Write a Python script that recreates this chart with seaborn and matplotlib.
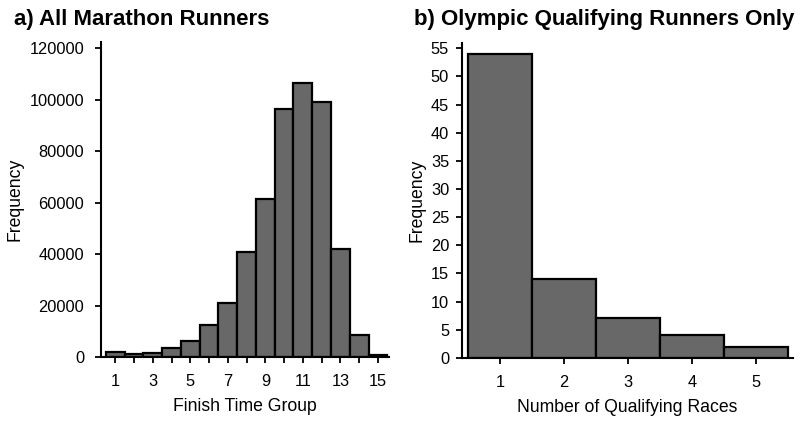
import matplotlib
matplotlib.use("Agg")
import matplotlib.pyplot as plt
import seaborn as sns
import numpy as np

# Finish time groups and their counts (all marathon runners)
finish_groups = list(range(1, 16))
finish_counts = [1800, 1200, 1700, 3400, 6200, 12600, 21000, 41000,
                 61500, 96500, 106500, 99000, 42000, 8400, 800]

# Number of qualifying races per Olympic qualifier
race_counts = [1, 2, 3, 4, 5]
race_freq = [54, 14, 7, 4, 2]

sns.set_style("ticks")
plt.rcParams["font.family"] = ["Liberation Sans", "DejaVu Sans"]
plt.rcParams["text.color"] = "black"
plt.rcParams["axes.labelcolor"] = "black"
plt.rcParams["axes.edgecolor"] = "black"
plt.rcParams["axes.linewidth"] = 1.5
plt.rcParams["xtick.major.width"] = 1.3
plt.rcParams["ytick.major.width"] = 1.3
plt.rcParams["xtick.major.size"] = 4
plt.rcParams["ytick.major.size"] = 4

bar_color = "#686868"

fig = plt.figure(figsize=(8.0, 4.23), dpi=100)
ax1 = fig.add_axes([0.126, 0.156, 0.360, 0.745])
ax2 = fig.add_axes([0.577, 0.154, 0.414, 0.745])

sns.histplot(x=finish_groups, weights=finish_counts, discrete=True, ax=ax1,
             color=bar_color, edgecolor="black", linewidth=1.6, alpha=1)
sns.histplot(x=race_counts, weights=race_freq, discrete=True, ax=ax2,
             color=bar_color, edgecolor="black", linewidth=1.6, alpha=1)

# Left panel axes
ax1.set_xlim(0.23, 15.58)
ax1.set_ylim(0, 122500)
ax1.set_yticks(np.arange(0, 120001, 20000))
ax1.set_xticks(finish_groups)
ax1.set_xticklabels([str(g) if g % 2 == 1 else "" for g in finish_groups])
ax1.set_xlabel("Finish Time Group", fontsize=12.7, labelpad=7)
ax1.set_ylabel("Frequency", fontsize=12.7, labelpad=4)

# Right panel axes
ax2.set_xlim(0.4, 5.58)
ax2.set_ylim(0, 56)
ax2.set_yticks(np.arange(0, 56, 5))
ax2.set_xticks(race_counts)
ax2.set_xlabel("Number of Qualifying Races", fontsize=12.7, labelpad=7)
ax2.set_ylabel("Frequency", fontsize=12.7, labelpad=4)

for ax in (ax1, ax2):
    sns.despine(ax=ax)
    ax.tick_params(axis="both", labelsize=11.8, colors="black", pad=5)
    ax.tick_params(axis="x", pad=8)
ax1.tick_params(axis="y", pad=8)

fig.text(0.017, 0.955, "a) All Marathon Runners", fontsize=16,
         fontweight="bold", va="center", ha="left")
fig.text(0.517, 0.955, "b) Olympic Qualifying Runners Only", fontsize=16,
         fontweight="bold", va="center", ha="left")

fig.savefig("out.png", dpi=100)
